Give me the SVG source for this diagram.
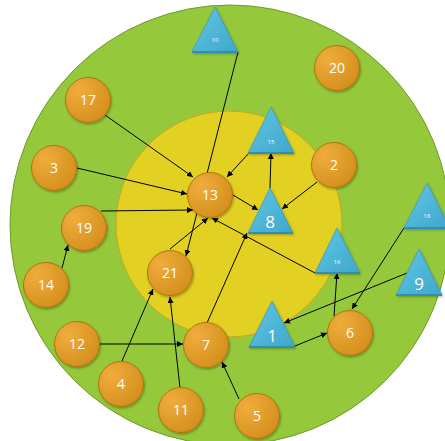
<svg xmlns="http://www.w3.org/2000/svg" width="445" height="441" viewBox="0 0 445 441">
<style>
.c{fill:url(#og);stroke:#b5740e;stroke-width:1;filter:url(#sh)}
.t{fill:url(#bg);stroke:#3a9cbf;stroke-width:0.8;filter:url(#sh)}
.tb{stroke:#2f8fb3;stroke-width:2}
.l{font-family:"Open Sans","Liberation Sans",sans-serif;fill:#fff;text-anchor:middle}
.lc{font-size:14px}
.ls{font-size:6px}
.lb{font-size:17px}
.e{stroke:#000;stroke-width:1;fill:none;marker-end:url(#ah)}
</style>
<defs>
<radialGradient id="og" cx="0.3" cy="0.3" r="0.8">
<stop offset="0" stop-color="#f0ad3c"/>
<stop offset="1" stop-color="#d38e1c"/>
</radialGradient>
<linearGradient id="bg" x1="0" y1="0" x2="1" y2="1">
<stop offset="0" stop-color="#62c6e4"/>
<stop offset="1" stop-color="#3ea7cc"/>
</linearGradient>
<filter id="sh" x="-20%" y="-20%" width="150%" height="150%">
<feDropShadow dx="1" dy="1.5" stdDeviation="1" flood-color="#000" flood-opacity="0.3"/>
</filter>
<marker id="ah" viewBox="0 0 10 10" refX="10" refY="5" markerWidth="6" markerHeight="6" orient="auto" markerUnits="userSpaceOnUse">
<path d="M0,0 L10,5 L0,10 z" fill="#000"/>
</marker>
</defs>
<g id="background">
<circle cx="230" cy="225" r="220" fill="#95c83b" stroke="#6f9a2c" stroke-width="1"/>
<circle cx="229" cy="224" r="113" fill="#e2d022" stroke="#c4a820" stroke-width="1"/>
</g>
<g id="connectors">
<line class="e" x1="105" y1="115" x2="193" y2="177"/>
<line class="e" x1="77" y1="168" x2="187" y2="194"/>
<line class="e" x1="101" y1="211" x2="193" y2="210"/>
<line class="e" x1="238" y1="52" x2="186" y2="256"/>
<line class="e" x1="249" y1="153" x2="227" y2="177"/>
<line class="e" x1="233" y1="195" x2="258" y2="210"/>
<line class="e" x1="270" y1="188" x2="271" y2="153"/>
<line class="e" x1="317" y1="182" x2="282" y2="209"/>
<line class="e" x1="315" y1="273" x2="212" y2="218"/>
<line class="e" x1="170" y1="249" x2="208" y2="218"/>
<line class="e" x1="207" y1="323" x2="247" y2="233"/>
<line class="e" x1="404" y1="228" x2="352" y2="309"/>
<line class="e" x1="407" y1="273" x2="284" y2="323"/>
<line class="e" x1="295" y1="346" x2="327" y2="333"/>
<line class="e" x1="334" y1="316" x2="337" y2="273"/>
<line class="e" x1="62" y1="268" x2="68" y2="245"/>
<line class="e" x1="99" y1="344" x2="183" y2="344"/>
<line class="e" x1="122" y1="361" x2="153" y2="289"/>
<line class="e" x1="180" y1="388" x2="170" y2="297"/>
<line class="e" x1="239" y1="399" x2="222" y2="362"/>
</g>
<g id="n10"><polygon class="t" points="215,7 238,52 192,52"/><line class="tb" x1="192" y1="52" x2="238" y2="52"/><text class="l ls" x="215" y="42">10</text></g>
<g id="n15"><polygon class="t" points="271,107 294,153 248,153"/><line class="tb" x1="248" y1="153" x2="294" y2="153"/><text class="l ls" x="271" y="144">15</text></g>
<g id="n8"><polygon class="t" points="270,188 293,233 248,233"/><line class="tb" x1="248" y1="233" x2="293" y2="233"/><text class="l lb" x="270" y="228">8</text></g>
<g id="n18"><polygon class="t" points="427,183 450,228 404,228"/><line class="tb" x1="404" y1="228" x2="450" y2="228"/><text class="l ls" x="427" y="218">18</text></g>
<g id="n16"><polygon class="t" points="337,228 360,273 315,273"/><line class="tb" x1="315" y1="273" x2="360" y2="273"/><text class="l ls" x="337" y="264">16</text></g>
<g id="n9"><polygon class="t" points="419,249 442,295 396,295"/><line class="tb" x1="396" y1="295" x2="442" y2="295"/><text class="l lb" x="419" y="290">9</text></g>
<g id="n1"><polygon class="t" points="272,301 295,347 249,347"/><line class="tb" x1="249" y1="347" x2="295" y2="347"/><text class="l lb" x="272" y="342">1</text></g>
<g id="n17"><circle class="c" cx="88" cy="100" r="22.5"/><text class="l lc" x="88" y="105">17</text></g>
<g id="n20"><circle class="c" cx="337" cy="68" r="22.5"/><text class="l lc" x="337" y="73">20</text></g>
<g id="n3"><circle class="c" cx="54" cy="168" r="22.5"/><text class="l lc" x="54" y="173">3</text></g>
<g id="n2"><circle class="c" cx="334" cy="165" r="22.5"/><text class="l lc" x="334" y="170">2</text></g>
<g id="n13"><circle class="c" cx="210" cy="195" r="22.5"/><text class="l lc" x="210" y="200">13</text></g>
<g id="n19"><circle class="c" cx="84" cy="228" r="22.5"/><text class="l lc" x="84" y="233">19</text></g>
<g id="n21"><circle class="c" cx="170" cy="273" r="22.5"/><text class="l lc" x="170" y="278">21</text></g>
<g id="n14"><circle class="c" cx="46" cy="285" r="22.5"/><text class="l lc" x="46" y="290">14</text></g>
<g id="n12"><circle class="c" cx="77" cy="344" r="22.5"/><text class="l lc" x="77" y="349">12</text></g>
<g id="n7"><circle class="c" cx="206" cy="345" r="22.5"/><text class="l lc" x="206" y="350">7</text></g>
<g id="n6"><circle class="c" cx="350" cy="333" r="22.5"/><text class="l lc" x="350" y="338">6</text></g>
<g id="n4"><circle class="c" cx="121" cy="384" r="22.5"/><text class="l lc" x="121" y="389">4</text></g>
<g id="n11"><circle class="c" cx="181" cy="410" r="22.5"/><text class="l lc" x="181" y="415">11</text></g>
<g id="n5"><circle class="c" cx="257" cy="416" r="22.5"/><text class="l lc" x="257" y="421">5</text></g>
</svg>
